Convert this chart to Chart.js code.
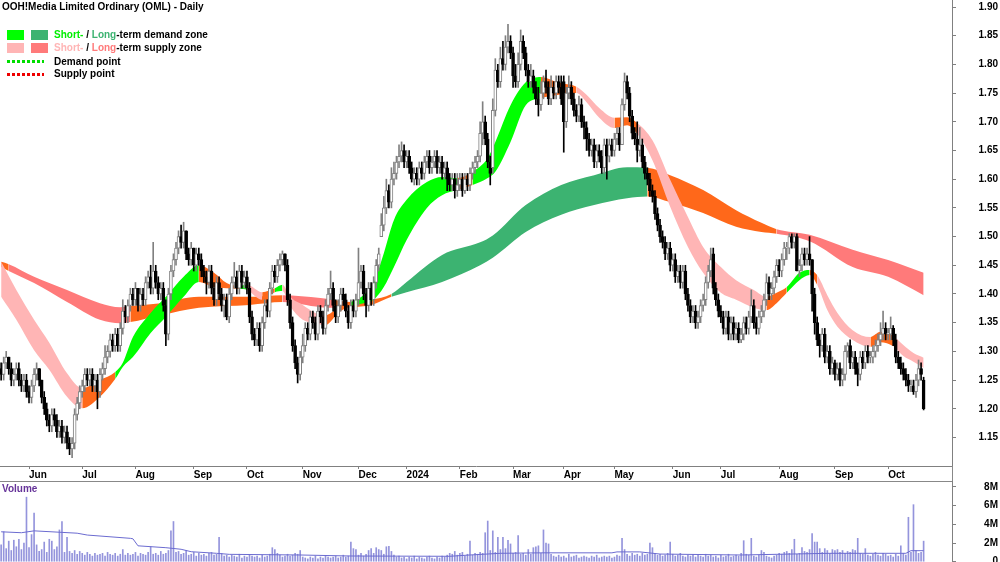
<!DOCTYPE html>
<html>
<head>
<meta charset="utf-8">
<title>OOH!Media Limited Ordinary (OML) - Daily</title>
<script src="https://cdn.jsdelivr.net/npm/chart.js@4.4.1/dist/chart.umd.min.js"></script>
<style>
  body { margin: 0; background: #fff; font-family: "Liberation Sans", Arial, sans-serif; }
  #wrap { position: relative; width: 1000px; height: 562px; overflow: hidden; }
  #priceBox { position: absolute; left: 0; top: 0; width: 1000px; height: 481px; }
  #volBox { position: absolute; left: 0; top: 481px; width: 1000px; height: 81px; }
  .hline { position: absolute; left: 0; width: 952px; height: 1px; background: #888; }
  .vline { position: absolute; left: 952px; width: 1px; background: #888; }
  .t { position: absolute; font-size: 10px; font-weight: bold; line-height: 12px; white-space: nowrap; color: #000; }
  .box { position: absolute; width: 17px; height: 10px; }
  .dots { position: absolute; width: 37px; height: 3px; }
</style>
</head>
<body>
<div id="wrap">
  <div id="priceBox"><canvas id="priceChart" width="1000" height="481"></canvas></div>
  <div id="volBox"><canvas id="volChart" width="1000" height="81"></canvas></div>
  <div class="hline" style="top:481px"></div>
  <div class="vline" style="top:466px;height:15px"></div>

  <div class="t" style="left:2px;top:1px">OOH!Media Limited Ordinary (OML) - Daily</div>
  <div class="box" style="left:7px;top:30px;background:#00ff00"></div>
  <div class="box" style="left:31px;top:30px;background:#3cb371"></div>
  <div class="t" style="left:54px;top:29px"><span style="color:#00ee00">Short-</span> / <span style="color:#3cb371">Long</span>-term demand zone</div>
  <div class="box" style="left:7px;top:43px;background:#ffb5b5"></div>
  <div class="box" style="left:31px;top:43px;background:#ff7a7a"></div>
  <div class="t" style="left:54px;top:42px"><span style="color:#ffb5b5">Short-</span> / <span style="color:#ff7a7a">Long</span>-term supply zone</div>
  <div class="dots" style="left:7px;top:60px;background:repeating-linear-gradient(90deg,#00dd00 0 3px,transparent 3px 5px)"></div>
  <div class="t" style="left:54px;top:56px">Demand point</div>
  <div class="dots" style="left:7px;top:73px;background:repeating-linear-gradient(90deg,#ee0000 0 3px,transparent 3px 5px)"></div>
  <div class="t" style="left:54px;top:68px">Supply point</div>
  <div class="t" style="left:2px;top:483px;color:#663399">Volume</div>
</div>

<script>
// axis labels
const monthIdx = [11, 32, 53, 76, 97, 119, 141, 160, 181, 202, 222, 242, 265, 284, 307, 329, 350];
const monthLabels = ['Jun', 'Jul', 'Aug', 'Sep', 'Oct', 'Nov', 'Dec', '2024', 'Feb', 'Mar', 'Apr', 'May', 'Jun', 'Jul', 'Aug', 'Sep', 'Oct'];
const priceTicks = [1.15, 1.20, 1.25, 1.30, 1.35, 1.40, 1.45, 1.50, 1.55, 1.60, 1.65, 1.70, 1.75, 1.80, 1.85, 1.90];
const volTicks = [0, 2, 4, 6, 8]; // millions

// daily prices (one value per trading day, mid May 2023 -> Oct 2024)
const open = [
  1.27,1.26,1.28,1.29,1.27,1.25,1.26,1.27,1.25,1.24, 1.25,1.23,1.22,1.24,1.26,1.27,1.25,1.22,1.20,1.18,
  1.17,1.19,1.18,1.16,1.17,1.15,1.16,1.14,1.13,1.14, 1.19,1.21,1.23,1.24,1.26,1.25,1.26,1.24,1.25,1.23,
  1.26,1.27,1.29,1.30,1.32,1.31,1.33,1.31,1.34,1.37, 1.36,1.38,1.40,1.39,1.41,1.38,1.40,1.39,1.42,1.43,
  1.41,1.44,1.42,1.40,1.41,1.38,1.33,1.40,1.44,1.46, 1.48,1.50,1.49,1.51,1.47,1.46,1.48,1.45,1.47,1.46,
  1.44,1.43,1.42,1.44,1.41,1.39,1.42,1.40,1.38,1.39, 1.36,1.40,1.42,1.43,1.41,1.44,1.42,1.43,1.41,1.36,
  1.33,1.32,1.34,1.31,1.35,1.38,1.37,1.41,1.44,1.43, 1.45,1.46,1.47,1.45,1.39,1.35,1.31,1.28,1.26,1.29,
  1.31,1.34,1.33,1.36,1.35,1.33,1.37,1.36,1.34,1.38, 1.40,1.41,1.38,1.36,1.38,1.40,1.39,1.37,1.35,1.38,
  1.37,1.39,1.42,1.44,1.40,1.38,1.41,1.39,1.42,1.45, 1.50,1.52,1.55,1.58,1.56,1.60,1.61,1.63,1.64,1.65,
  1.63,1.64,1.62,1.60,1.61,1.60,1.62,1.61,1.63,1.64, 1.62,1.63,1.64,1.62,1.63,1.61,1.62,1.60,1.59,1.60,
  1.58,1.59,1.60,1.58,1.60,1.59,1.61,1.62,1.63,1.64, 1.68,1.70,1.67,1.63,1.62,1.72,1.79,1.77,1.81,1.80,
  1.83,1.84,1.82,1.78,1.77,1.80,1.84,1.82,1.79,1.77, 1.78,1.76,1.74,1.73,1.75,1.77,1.76,1.74,1.76,1.75,
  1.77,1.76,1.77,1.70,1.75,1.76,1.74,1.72,1.71,1.73, 1.70,1.69,1.67,1.65,1.66,1.63,1.65,1.64,1.62,1.66,
  1.64,1.66,1.65,1.67,1.68,1.66,1.73,1.77,1.75,1.71, 1.68,1.67,1.65,1.66,1.63,1.61,1.60,1.58,1.57,1.54,
  1.52,1.50,1.49,1.47,1.48,1.45,1.46,1.43,1.44,1.42, 1.44,1.40,1.38,1.36,1.37,1.35,1.36,1.38,1.39,1.42,
  1.44,1.47,1.41,1.39,1.37,1.36,1.34,1.36,1.33,1.35, 1.33,1.34,1.32,1.33,1.35,1.34,1.36,1.38,1.35,1.34,
  1.36,1.37,1.39,1.42,1.40,1.41,1.43,1.45,1.44,1.46, 1.48,1.48,1.50,1.49,1.50,1.44,1.45,1.47,1.46,1.47,
  1.46,1.40,1.35,1.32,1.31,1.33,1.29,1.30,1.27,1.28, 1.26,1.27,1.25,1.26,1.30,1.31,1.28,1.29,1.27,1.26,
  1.29,1.28,1.30,1.29,1.29,1.30,1.31,1.32,1.33,1.34, 1.33,1.33,1.34,1.32,1.29,1.28,1.27,1.26,1.25,1.24,
  1.24,1.23,1.25,1.27,1.25
];
const high = [
  1.28,1.29,1.30,1.29,1.28,1.27,1.28,1.28,1.26,1.26, 1.26,1.24,1.25,1.27,1.28,1.27,1.25,1.23,1.21,1.19,
  1.20,1.20,1.19,1.18,1.18,1.17,1.17,1.15,1.15,1.20, 1.22,1.24,1.25,1.27,1.27,1.27,1.27,1.26,1.26,1.27,
  1.28,1.31,1.31,1.33,1.33,1.34,1.34,1.35,1.39,1.38, 1.39,1.41,1.41,1.42,1.41,1.41,1.41,1.43,1.44,1.45,
  1.49,1.45,1.43,1.42,1.42,1.39,1.41,1.45,1.47,1.49, 1.51,1.52,1.525,1.51,1.48,1.49,1.48,1.48,1.48,1.47,
  1.45,1.44,1.45,1.45,1.42,1.43,1.43,1.41,1.40,1.40, 1.41,1.43,1.455,1.44,1.45,1.45,1.44,1.44,1.42,1.37,
  1.34,1.35,1.35,1.36,1.39,1.39,1.42,1.45,1.45,1.46, 1.47,1.475,1.47,1.46,1.40,1.36,1.32,1.29,1.30,1.33,
  1.35,1.35,1.37,1.37,1.36,1.38,1.38,1.37,1.39,1.41, 1.44,1.42,1.39,1.39,1.41,1.41,1.40,1.38,1.39,1.39,
  1.40,1.48,1.45,1.45,1.41,1.42,1.42,1.43,1.46,1.48, 1.54,1.57,1.60,1.59,1.62,1.63,1.64,1.66,1.665,1.66,
  1.65,1.65,1.63,1.62,1.62,1.63,1.63,1.64,1.65,1.65, 1.64,1.65,1.65,1.64,1.64,1.63,1.63,1.61,1.61,1.61,
  1.61,1.61,1.61,1.61,1.61,1.62,1.63,1.64,1.65,1.70, 1.735,1.71,1.68,1.64,1.74,1.81,1.80,1.83,1.84,1.85,
  1.87,1.85,1.83,1.80,1.82,1.86,1.85,1.83,1.80,1.80, 1.79,1.77,1.76,1.77,1.78,1.79,1.77,1.78,1.77,1.78,
  1.78,1.78,1.78,1.76,1.78,1.77,1.75,1.73,1.745,1.74, 1.71,1.70,1.68,1.67,1.67,1.66,1.66,1.65,1.67,1.67,
  1.67,1.67,1.68,1.69,1.69,1.74,1.785,1.78,1.76,1.72, 1.69,1.70,1.69,1.67,1.64,1.62,1.61,1.59,1.58,1.55,
  1.53,1.51,1.50,1.49,1.49,1.47,1.47,1.45,1.45,1.45, 1.45,1.41,1.39,1.38,1.38,1.37,1.39,1.40,1.43,1.45,
  1.48,1.48,1.42,1.40,1.38,1.37,1.37,1.37,1.36,1.36, 1.35,1.35,1.34,1.36,1.36,1.37,1.407,1.39,1.36,1.37,
  1.38,1.40,1.435,1.43,1.42,1.44,1.46,1.46,1.47,1.49, 1.49,1.505,1.505,1.505,1.505,1.46,1.48,1.48,1.48,1.50,
  1.46,1.41,1.36,1.33,1.34,1.34,1.31,1.31,1.29,1.285, 1.28,1.28,1.27,1.31,1.315,1.32,1.30,1.30,1.28,1.30,
  1.30,1.31,1.31,1.30,1.31,1.32,1.33,1.35,1.37,1.35, 1.34,1.36,1.345,1.33,1.30,1.29,1.28,1.27,1.26,1.25,
  1.25,1.26,1.285,1.28,1.255
];
const low = [
  1.25,1.25,1.27,1.26,1.24,1.24,1.25,1.24,1.23,1.23, 1.22,1.21,1.21,1.23,1.25,1.24,1.21,1.19,1.17,1.16,
  1.16,1.17,1.15,1.15,1.14,1.14,1.13,1.12,1.115,1.13, 1.18,1.20,1.22,1.23,1.24,1.24,1.23,1.23,1.20,1.22,
  1.25,1.26,1.28,1.29,1.30,1.30,1.30,1.30,1.33,1.35, 1.35,1.37,1.38,1.38,1.37,1.37,1.38,1.38,1.41,1.40,
  1.40,1.41,1.39,1.39,1.37,1.31,1.32,1.39,1.43,1.45, 1.47,1.48,1.48,1.46,1.45,1.45,1.44,1.44,1.45,1.43,
  1.42,1.40,1.41,1.40,1.38,1.38,1.39,1.37,1.36,1.355, 1.35,1.39,1.41,1.40,1.40,1.41,1.41,1.40,1.35,1.32,
  1.31,1.31,1.30,1.30,1.34,1.36,1.36,1.40,1.42,1.42, 1.44,1.45,1.44,1.38,1.34,1.30,1.27,1.245,1.25,1.28,
  1.30,1.32,1.32,1.34,1.32,1.32,1.35,1.33,1.33,1.37, 1.39,1.37,1.35,1.35,1.37,1.38,1.36,1.34,1.34,1.36,
  1.36,1.38,1.41,1.39,1.36,1.37,1.38,1.38,1.41,1.44, 1.50,1.51,1.54,1.55,1.55,1.59,1.60,1.62,1.63,1.62,
  1.62,1.61,1.595,1.59,1.59,1.59,1.60,1.60,1.62,1.61, 1.61,1.62,1.61,1.61,1.60,1.60,1.58,1.58,1.58,1.567,
  1.57,1.58,1.57,1.575,1.58,1.58,1.60,1.61,1.62,1.63, 1.66,1.66,1.62,1.59,1.61,1.71,1.76,1.76,1.79,1.79,
  1.82,1.81,1.76,1.76,1.76,1.79,1.81,1.78,1.76,1.76, 1.75,1.73,1.71,1.72,1.74,1.75,1.73,1.73,1.74,1.74,
  1.75,1.73,1.647,1.69,1.74,1.73,1.71,1.70,1.70,1.69, 1.67,1.65,1.64,1.64,1.62,1.62,1.63,1.61,1.61,1.60,
  1.63,1.64,1.64,1.66,1.65,1.66,1.72,1.74,1.70,1.67, 1.66,1.63,1.64,1.62,1.60,1.59,1.57,1.56,1.53,1.51,
  1.49,1.48,1.46,1.46,1.44,1.44,1.42,1.42,1.41,1.41, 1.39,1.37,1.35,1.35,1.34,1.34,1.35,1.37,1.38,1.41,
  1.43,1.40,1.38,1.36,1.35,1.33,1.33,1.32,1.32,1.32, 1.32,1.315,1.315,1.32,1.33,1.33,1.35,1.34,1.33,1.33,
  1.35,1.36,1.38,1.39,1.39,1.40,1.42,1.43,1.43,1.45, 1.46,1.47,1.48,1.48,1.44,1.43,1.44,1.45,1.45,1.45,
  1.37,1.33,1.31,1.29,1.30,1.28,1.28,1.26,1.26,1.25, 1.25,1.24,1.24,1.25,1.29,1.27,1.27,1.26,1.24,1.25,
  1.27,1.27,1.28,1.28,1.28,1.29,1.30,1.31,1.32,1.32, 1.32,1.32,1.31,1.28,1.27,1.26,1.25,1.24,1.23,1.23,
  1.225,1.22,1.24,1.25,1.198
];
const close = [
  1.26,1.28,1.29,1.27,1.25,1.26,1.27,1.25,1.24,1.25, 1.23,1.22,1.24,1.26,1.27,1.25,1.22,1.20,1.18,1.17,
  1.19,1.18,1.16,1.17,1.15,1.16,1.14,1.13,1.14,1.19, 1.21,1.23,1.24,1.26,1.25,1.26,1.24,1.25,1.23,1.26,
  1.27,1.29,1.30,1.32,1.31,1.33,1.31,1.34,1.37,1.36, 1.38,1.40,1.39,1.41,1.38,1.40,1.39,1.42,1.43,1.41,
  1.44,1.42,1.40,1.41,1.38,1.33,1.40,1.44,1.46,1.48, 1.50,1.49,1.51,1.47,1.46,1.48,1.45,1.47,1.46,1.44,
  1.43,1.42,1.44,1.41,1.39,1.42,1.40,1.38,1.39,1.36, 1.40,1.42,1.43,1.41,1.44,1.42,1.43,1.41,1.36,1.33,
  1.32,1.34,1.31,1.35,1.38,1.37,1.41,1.44,1.43,1.45, 1.46,1.47,1.45,1.39,1.35,1.31,1.28,1.26,1.29,1.31,
  1.34,1.33,1.36,1.35,1.33,1.37,1.36,1.34,1.38,1.40, 1.41,1.38,1.36,1.38,1.40,1.39,1.37,1.35,1.38,1.37,
  1.39,1.42,1.44,1.40,1.38,1.41,1.39,1.42,1.45,1.47, 1.52,1.55,1.58,1.56,1.60,1.61,1.63,1.64,1.65,1.63,
  1.64,1.62,1.60,1.61,1.60,1.62,1.61,1.63,1.64,1.62, 1.63,1.64,1.62,1.63,1.61,1.62,1.60,1.59,1.60,1.58,
  1.59,1.60,1.58,1.60,1.59,1.61,1.62,1.63,1.64,1.68, 1.70,1.67,1.63,1.61,1.72,1.79,1.77,1.81,1.80,1.83,
  1.84,1.82,1.78,1.77,1.80,1.84,1.82,1.79,1.77,1.78, 1.76,1.74,1.73,1.75,1.77,1.76,1.74,1.76,1.75,1.77,
  1.76,1.74,1.70,1.75,1.76,1.74,1.72,1.71,1.73,1.70, 1.69,1.67,1.65,1.66,1.63,1.65,1.64,1.62,1.66,1.64,
  1.66,1.65,1.67,1.68,1.66,1.73,1.77,1.75,1.71,1.68, 1.67,1.65,1.66,1.63,1.61,1.60,1.58,1.57,1.54,1.52,
  1.50,1.49,1.47,1.48,1.45,1.46,1.43,1.44,1.42,1.44, 1.40,1.38,1.36,1.37,1.35,1.36,1.38,1.39,1.42,1.44,
  1.46,1.41,1.39,1.37,1.36,1.34,1.36,1.33,1.35,1.33, 1.34,1.32,1.33,1.35,1.34,1.36,1.38,1.35,1.34,1.36,
  1.37,1.39,1.42,1.40,1.41,1.43,1.45,1.44,1.46,1.48, 1.48,1.50,1.49,1.50,1.44,1.45,1.47,1.46,1.47,1.46,
  1.40,1.35,1.32,1.31,1.33,1.29,1.30,1.27,1.28,1.26, 1.27,1.25,1.26,1.30,1.31,1.28,1.29,1.27,1.26,1.29,
  1.28,1.30,1.29,1.29,1.30,1.31,1.32,1.33,1.34,1.33, 1.33,1.34,1.32,1.29,1.28,1.27,1.26,1.25,1.24,1.24,
  1.23,1.25,1.27,1.26,1.20
];

// daily volume, millions of shares
const volume = [
  1.8,3.2,1.4,2.2,1.2,2.3,1.6,2.4,1.3,2.0, 6.9,1.5,2.9,5.2,1.8,1.1,1.3,2.1,1.0,2.4,
  2.2,1.3,1.6,3.4,4.3,1.0,2.6,1.1,0.9,1.2, 0.8,1.1,0.9,0.7,1.0,0.8,0.6,0.9,0.7,0.8,
  0.9,0.6,1.0,0.8,0.7,0.9,0.6,0.8,1.3,0.7, 0.9,0.7,0.8,1.0,0.6,0.9,0.8,0.7,1.0,1.6,
  0.8,0.9,0.7,1.1,0.8,0.9,1.2,3.3,4.3,1.0, 1.1,0.8,0.9,1.2,0.7,0.8,1.0,0.6,0.9,0.7,
  0.8,0.6,0.9,1.0,0.7,0.8,2.6,0.9,0.6,0.7, 0.5,0.7,0.6,0.5,0.8,0.4,0.6,0.5,0.7,0.6,
  0.5,0.6,0.4,0.7,0.5,0.6,0.8,1.5,1.3,0.9, 0.7,0.5,0.6,0.8,0.6,0.7,0.9,0.8,1.2,0.5,
  0.4,0.3,0.5,0.4,0.6,0.3,0.5,0.4,0.6,0.5, 0.4,0.5,0.6,0.4,0.5,0.7,0.5,0.6,2.1,1.4,
  1.3,0.7,0.9,0.6,0.8,1.2,1.4,0.9,1.5,1.3, 1.2,0.8,1.6,1.65,1.1,0.7,0.5,0.6,0.4,0.5,
  0.3,0.5,0.4,0.6,0.3,0.5,0.4,0.3,0.5,0.6, 0.4,0.3,0.5,0.4,0.6,0.5,0.7,0.9,0.8,1.1,
  0.7,0.9,1.0,0.6,0.8,2.2,0.7,0.9,0.8,1.0, 0.9,3.1,4.35,1.2,3.3,1.0,2.6,1.3,2.6,1.4,
  2.3,1.9,0.9,1.0,2.8,0.8,0.9,0.7,1.3,0.8, 1.5,1.6,1.7,0.9,3.4,2.0,1.9,0.8,0.6,0.5,
  0.7,0.5,0.6,0.4,0.8,0.5,0.6,0.7,0.4,0.5, 0.6,0.5,0.4,0.6,0.5,0.7,0.4,0.5,0.6,0.5,
  0.6,0.4,0.5,0.7,0.6,2.5,1.3,0.8,0.6,0.9, 0.7,0.8,0.6,0.9,0.7,0.8,2.0,1.5,0.9,0.7,
  0.8,0.6,0.7,0.9,2.1,0.8,0.6,0.7,0.9,0.6, 0.5,0.7,0.6,0.8,0.5,0.7,0.6,0.5,0.8,0.6,
  0.7,0.5,0.6,0.4,0.7,0.5,0.6,0.8,0.5,0.6, 0.7,0.6,0.9,2.25,0.8,0.7,2.5,0.6,0.5,0.7,
  1.2,1.0,0.6,0.5,0.4,0.6,0.7,0.9,0.8,1.0, 1.1,0.9,1.3,2.4,0.8,0.9,1.5,1.1,1.0,1.3,
  3.0,2.1,2.1,1.4,1.0,1.4,1.2,0.9,1.3,1.2, 1.3,1.0,1.2,0.9,1.1,1.0,1.3,1.2,2.5,0.9,
  0.8,1.4,0.7,0.6,0.8,1.0,0.7,0.6,0.9,0.8, 0.6,0.7,0.5,0.8,0.6,1.7,0.9,0.7,4.75,1.0,
  6.1,1.2,0.9,1.0,2.2
];
// volume average line, read at these bar positions
const volAvgIdx = [0, 8, 13, 30, 34, 51, 52, 54, 65, 71, 75, 85, 90, 118, 138, 177, 185, 197, 213, 241, 243, 252, 260, 292, 327, 357, 359, 364];
const volAvg    = [3.2, 3.1, 3.3, 3.05, 2.85, 2.5, 2.45, 1.7, 1.5, 1.33, 1.07, 0.9, 0.79, 0.72, 0.61, 0.58, 0.72, 0.9, 0.95, 0.95, 1.05, 1.05, 0.82, 0.72, 0.9, 0.9, 1.18, 1.18];

// short-term zone edges (G demand, S supply, O mixed) read at these bar positions
const stIdx = [0, 6, 13, 19, 26, 32, 39, 45, 48, 52, 59, 65, 72, 78, 84, 89, 94, 97, 103, 108, 111, 114, 119, 124, 128, 133, 138, 143, 147, 151, 155, 160, 168, 174, 180, 186, 192, 195, 201, 207, 213, 220, 227, 231, 236, 242, 247, 251, 257, 264, 271, 277, 284, 290, 297, 302, 306, 310, 315, 319, 322, 326, 330, 336, 343, 347, 352, 356, 360, 364];
const stTop = [1.456, 1.407, 1.355, 1.315, 1.262, 1.236, 1.250, 1.264, 1.280, 1.325, 1.367, 1.395, 1.430, 1.450, 1.437, 1.419, 1.414, 1.416, 1.403, 1.410, 1.416, 1.395, 1.381, 1.367, 1.363, 1.376, 1.386, 1.398, 1.419, 1.471, 1.529, 1.564, 1.595, 1.604, 1.602, 1.613, 1.637, 1.665, 1.729, 1.769, 1.778, 1.768, 1.761, 1.747, 1.724, 1.707, 1.708, 1.698, 1.668, 1.599, 1.534, 1.482, 1.447, 1.424, 1.407, 1.395, 1.402, 1.412, 1.437, 1.442, 1.433, 1.398, 1.367, 1.337, 1.325, 1.334, 1.327, 1.311, 1.297, 1.289];
const stBot = [1.395, 1.355, 1.302, 1.268, 1.221, 1.201, 1.221, 1.252, 1.273, 1.290, 1.332, 1.360, 1.395, 1.421, 1.412, 1.410, 1.409, 1.407, 1.390, 1.403, 1.405, 1.379, 1.355, 1.349, 1.346, 1.367, 1.379, 1.384, 1.390, 1.412, 1.447, 1.494, 1.550, 1.572, 1.581, 1.590, 1.602, 1.613, 1.665, 1.729, 1.741, 1.747, 1.750, 1.734, 1.707, 1.689, 1.694, 1.679, 1.633, 1.552, 1.482, 1.437, 1.402, 1.390, 1.376, 1.372, 1.384, 1.402, 1.424, 1.433, 1.416, 1.372, 1.343, 1.320, 1.308, 1.316, 1.309, 1.292, 1.282, 1.271];
const stZone = ['S','S','S','S','S','O','O','G','G','G','G','G','G','O','O','O','G','S','O','G','S','S','S','S','O','O','G','G','G','G','G','G','G','G','O','G','G','G','G','G','O','O','S','S','S','O','O','S','S','S','S','S','S','S','S','O','O','G','G','O','S','S','S','S','O','O','S','S','S','S'];

// long-term zone edges (D demand, R supply, O mixed)
const ltIdx = [0, 3, 13, 26, 39, 47, 51, 63, 78, 98, 111, 126, 131, 138, 146, 154, 160, 174, 189, 194, 207, 221, 234, 247, 255, 264, 277, 290, 300, 306, 319, 336, 350, 364];
const ltTop = [1.456, 1.452, 1.430, 1.407, 1.384, 1.377, 1.379, 1.384, 1.395, 1.395, 1.398, 1.393, 1.390, 1.386, 1.390, 1.400, 1.421, 1.468, 1.490, 1.502, 1.555, 1.590, 1.607, 1.621, 1.620, 1.607, 1.581, 1.546, 1.524, 1.513, 1.503, 1.477, 1.459, 1.437];
const ltBot = [1.447, 1.440, 1.419, 1.386, 1.355, 1.349, 1.351, 1.363, 1.376, 1.381, 1.386, 1.377, 1.376, 1.377, 1.381, 1.395, 1.403, 1.421, 1.450, 1.463, 1.508, 1.538, 1.555, 1.567, 1.570, 1.560, 1.541, 1.517, 1.508, 1.505, 1.492, 1.447, 1.430, 1.398];
const ltZone = ['O','R','R','R','R','R','O','O','O','O','R','R','O','O','O','D','D','D','D','D','D','D','D','D','O','O','O','O','O','R','R','R','R','R'];

const zoneColor = { G: '#00ff00', D: '#3cb371', S: '#ffb5b5', R: '#ff7a7a', O: '#ff681a' };

Chart.defaults.font.family = '"Liberation Sans", Arial, sans-serif';
Chart.defaults.font.size = 10;
Chart.defaults.font.weight = 'bold';
Chart.defaults.color = '#000';
Chart.defaults.animation = false;

const xMin = -0.45, xMax = 375.2;

function band(idx, top, bot, zone, order) {
  return [
    { type: 'line', data: idx.map((x, k) => ({ x: x, y: top[k] })), borderWidth: 0, borderColor: 'transparent',
      pointRadius: 0, fill: false, cubicInterpolationMode: 'monotone', order: order },
    { type: 'line', data: idx.map((x, k) => ({ x: x, y: bot[k] })), borderWidth: 0, borderColor: 'transparent',
      pointRadius: 0, fill: '-1', cubicInterpolationMode: 'monotone', order: order,
      backgroundColor: zoneColor[zone[0]],
      segment: { backgroundColor: c => zoneColor[zone[c.p0DataIndex]] } }
  ];
}

const isUp = close.map((c, i) => c >= open[i]);

const priceChart = new Chart(document.getElementById('priceChart'), {
  type: 'bar',
  data: {
    datasets: [
      ...band(ltIdx, ltTop, ltBot, ltZone, 5),
      ...band(stIdx, stTop, stBot, stZone, 4),
      { // wicks
        data: close.map((c, i) => ({ x: i, y: [low[i], high[i]] })),
        backgroundColor: isUp.map(u => u ? '#808080' : '#000'),
        barThickness: 1, grouped: false, order: 1
      },
      { // bodies
        data: close.map((c, i) => ({ x: i, y: [open[i], c] })),
        backgroundColor: isUp.map(u => u ? '#fff' : '#000'),
        borderColor: isUp.map(u => u ? '#808080' : '#000'),
        borderWidth: 1, borderSkipped: false, minBarLength: 1,
        barThickness: 3, grouped: false, order: 0
      }
    ]
  },
  options: {
    responsive: false,
    layout: { padding: { left: 0, right: 2, top: 0, bottom: 0 } },
    plugins: { legend: { display: false }, tooltip: { enabled: false } },
    scales: {
      x: {
        type: 'linear', min: xMin, max: xMax, offset: false,
        afterBuildTicks: s => { s.ticks = monthIdx.map(v => ({ value: v })); },
        afterFit: s => { s.height = 15; s.paddingLeft = 0; s.paddingRight = 0; },
        grid: { drawOnChartArea: false, offset: false, tickLength: 3, color: '#808080' },
        border: { color: '#808080' },
        ticks: { autoSkip: false, maxRotation: 0, align: 'start', padding: 0,
                 callback: (v, i) => monthLabels[i] }
      },
      y: {
        type: 'linear', position: 'right', min: 1.1003, max: 1.9122,
        afterBuildTicks: s => { s.ticks = priceTicks.map(v => ({ value: v })); },
        afterFit: s => { s.width = 46; s.paddingTop = 0; s.paddingBottom = 0; },
        grid: { drawOnChartArea: false, tickLength: 4, color: '#808080' },
        border: { color: '#808080' },
        ticks: { crossAlign: 'far', callback: v => v.toFixed(2) }
      }
    }
  }
});

const volChart = new Chart(document.getElementById('volChart'), {
  type: 'bar',
  data: {
    datasets: [
      { type: 'line', data: volAvgIdx.map((x, k) => ({ x: x, y: volAvg[k] })),
        borderColor: '#6b6bd0', borderWidth: 1, pointRadius: 0, tension: 0, order: 0 },
      { data: volume.map((v, i) => ({ x: i, y: v })), backgroundColor: '#9494dc',
        barThickness: 1, grouped: false, order: 1 }
    ]
  },
  options: {
    responsive: false,
    layout: { padding: { left: 0, right: 2, top: 0, bottom: 0 } },
    plugins: { legend: { display: false }, tooltip: { enabled: false } },
    scales: {
      x: { type: 'linear', min: xMin, max: xMax, offset: false, display: false },
      y: {
        position: 'right', min: -0.03, max: 8.63,
        afterBuildTicks: s => { s.ticks = volTicks.map(v => ({ value: v })); },
        afterFit: s => { s.width = 46; s.paddingTop = 0; s.paddingBottom = 0; },
        grid: { drawOnChartArea: false, tickLength: 4, color: '#808080' },
        border: { color: '#808080' },
        ticks: { crossAlign: 'far', callback: v => v === 0 ? '0' : v + 'M' }
      }
    }
  }
});
</script>
</body>
</html>
